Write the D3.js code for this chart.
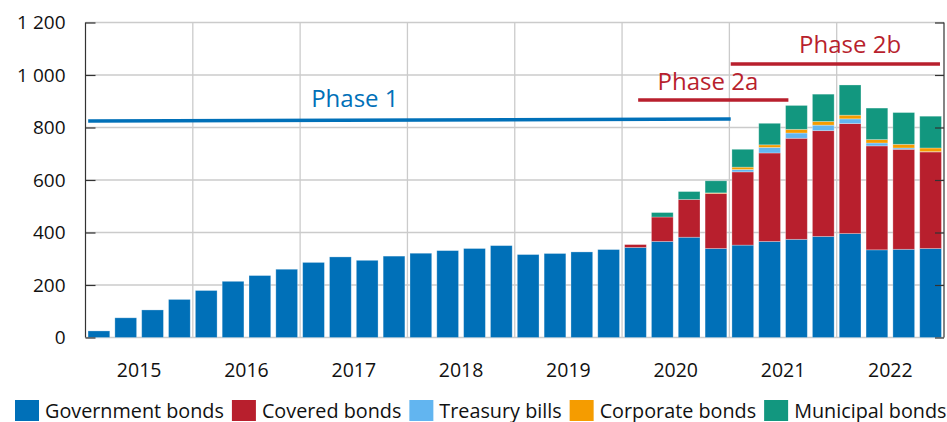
<!DOCTYPE html>
<html>
<head>
<meta charset="utf-8">
<script src="https://cdn.jsdelivr.net/npm/d3@7"></script>
<style>
  body { margin: 0; background: #fff; }
  text { font-family: "Open Sans", sans-serif; }
</style>
</head>
<body>
<svg id="chart" width="947" height="422"></svg>
<script>
// years and quarters on the x axis
var years = ["2015", "2016", "2017", "2018", "2019", "2020", "2021", "2022"];
var quarters = [];
years.forEach(function (y) {
  for (var q = 1; q <= 4; q++) quarters.push(y + "Q" + q);
});

// holdings per quarter
var government = [25, 75, 105, 145, 179, 214, 236, 260, 286, 307, 294, 310, 321, 331, 339, 350,
                  316, 320, 326, 335, 343, 366, 382, 339, 352, 366, 374, 385, 396, 334, 336, 339];
var covered    = [0, 0, 0, 0, 0, 0, 0, 0, 0, 0, 0, 0, 0, 0, 0, 0,
                  0, 0, 0, 0, 11, 93, 144, 210, 279, 337, 385, 403, 419, 396, 381, 368];
var treasury   = [0, 0, 0, 0, 0, 0, 0, 0, 0, 0, 0, 0, 0, 0, 0, 0,
                  0, 0, 0, 0, 0, 0, 0, 0, 9, 21, 20, 21, 18, 11, 5, 1];
var corporate  = [0, 0, 0, 0, 0, 0, 0, 0, 0, 0, 0, 0, 0, 0, 0, 0,
                  0, 0, 0, 0, 0, 0, 0, 2, 9, 10, 14, 14, 14, 13, 14, 14];
var municipal  = [0, 0, 0, 0, 0, 0, 0, 0, 0, 0, 0, 0, 0, 0, 0, 0,
                  0, 0, 0, 0, 0, 17, 30, 46, 68, 82, 91, 104, 115, 120, 121, 121];

var seriesNames = ["Government bonds", "Covered bonds", "Treasury bills", "Corporate bonds", "Municipal bonds"];
var seriesColors = ["#0070b8", "#b81f2d", "#62b5f0", "#f59c00", "#12977f"];
var yTicks = [0, 200, 400, 600, 800, 1000, 1200];

// phase annotations: start/end in quarter units, level at each end
var phaseNames = ["Phase 1", "Phase 2a", "Phase 2b"];
var phaseStart = [0.1, 20.6, 24.05];
var phaseEnd = [24.05, 26.2, 31.85];
var phaseLevelStart = [825, 905, 1042];
var phaseLevelEnd = [832, 905, 1042];
var phaseLabelLevel = [877, 943, 1082];
var phaseLabelPos = [10.04, 23.2, 28.5];
var phaseColors = ["#0070b8", "#b81f2d", "#b81f2d"];

var plotLeft = 85.5, plotRight = 944, plotTop = 22.5, plotBottom = 337.5;
var svg = d3.select("#chart");

var x = d3.scaleBand().domain(quarters).range([plotLeft, plotRight])
  .paddingInner(0.19).paddingOuter(0.095);
var xYear = d3.scaleBand().domain(years).range([plotLeft, plotRight]);
var xPos = d3.scaleLinear().domain([0, quarters.length]).range([plotLeft, plotRight]);
var y = d3.scaleLinear().domain([0, 1200]).range([plotBottom, plotTop]);

// grid
svg.append("g").selectAll("line")
  .data(yTicks)
  .enter().append("line")
  .attr("x1", plotLeft).attr("x2", plotRight)
  .attr("y1", function (d) { return y(d); })
  .attr("y2", function (d) { return y(d); })
  .attr("stroke", "#cbcbcb").attr("stroke-width", 1.3);

svg.append("g").selectAll("line")
  .data(years.slice(1))
  .enter().append("line")
  .attr("x1", function (d) { return xYear(d); })
  .attr("x2", function (d) { return xYear(d); })
  .attr("y1", plotTop).attr("y2", plotBottom)
  .attr("stroke", "#cbcbcb").attr("stroke-width", 1.3);

// stacked bars
var table = quarters.map(function (q, i) {
  var row = { q: q };
  row[seriesNames[0]] = government[i];
  row[seriesNames[1]] = covered[i];
  row[seriesNames[2]] = treasury[i];
  row[seriesNames[3]] = corporate[i];
  row[seriesNames[4]] = municipal[i];
  return row;
});
var stacked = d3.stack().keys(seriesNames)(table);

svg.append("g").selectAll("g")
  .data(stacked)
  .enter().append("g")
  .attr("fill", function (d, i) { return seriesColors[i]; })
  .selectAll("rect")
  .data(function (d) { return d.filter(function (p) { return p[1] > p[0]; }); })
  .enter().append("rect")
  .attr("x", function (d) { return x(d.data.q); })
  .attr("width", x.bandwidth())
  .attr("y", function (d) { return y(d[1]); })
  .attr("height", function (d) { return y(d[0]) - y(d[1]); })
  .attr("stroke", "rgba(255,255,255,0.35)")
  .attr("stroke-width", 0.8);

// axes
var fmt = function (d) { return d3.format(",")(d).replace(",", " "); };
var yAxis = svg.append("g")
  .attr("transform", "translate(" + plotLeft + ",0)")
  .call(d3.axisLeft(y).tickValues(yTicks).tickSize(-10).tickPadding(20).tickFormat(fmt));
yAxis.selectAll("text").attr("font-size", 19).attr("fill", "#111")
  .style("font-family", "'Open Sans', sans-serif");
yAxis.selectAll("line, path").attr("stroke", "#333").attr("stroke-width", 1.2);
yAxis.select(".domain").attr("d", "M0," + plotTop + "V" + plotBottom);

var rAxis = svg.append("g")
  .attr("transform", "translate(" + plotRight + ",0)")
  .call(d3.axisRight(y).tickValues(yTicks).tickSize(-9).tickFormat(""));
rAxis.selectAll("line, path").attr("stroke", "#333").attr("stroke-width", 1.2);
rAxis.select(".domain").attr("d", "M0," + plotTop + "V" + plotBottom);

var xAxis = svg.append("g")
  .attr("transform", "translate(0," + plotBottom + ")")
  .call(d3.axisBottom(xYear).tickSize(0).tickPadding(26));
xAxis.select(".domain").remove();
xAxis.selectAll("text").attr("font-size", 19.5).attr("fill", "#111")
  .style("font-family", "'Open Sans', sans-serif");

// phase lines and labels
phaseNames.forEach(function (name, i) {
  svg.append("line")
    .attr("x1", xPos(phaseStart[i])).attr("x2", xPos(phaseEnd[i]))
    .attr("y1", y(phaseLevelStart[i])).attr("y2", y(phaseLevelEnd[i]))
    .attr("stroke", phaseColors[i]).attr("stroke-width", 3.5);
});
svg.append("g").selectAll("text")
  .data(phaseNames)
  .enter().append("text")
  .attr("x", function (d, i) { return xPos(phaseLabelPos[i]); })
  .attr("y", function (d, i) { return y(phaseLabelLevel[i]); })
  .attr("text-anchor", "middle")
  .attr("font-size", 24)
  .attr("fill", function (d, i) { return phaseColors[i]; })
  .text(function (d) { return d; });

// legend
var legend = svg.append("g").attr("transform", "translate(15,400)");
var lx = 0;
seriesNames.forEach(function (name, i) {
  legend.append("rect")
    .attr("x", lx).attr("y", 0).attr("width", 24).attr("height", 21)
    .attr("fill", seriesColors[i]);
  var t = legend.append("text")
    .attr("x", lx + 30).attr("y", 17.5)
    .attr("font-size", 19.8).attr("fill", "#111")
    .text(name);
  lx += 30 + t.node().getComputedTextLength() + 8;
});
</script>
</body>
</html>
